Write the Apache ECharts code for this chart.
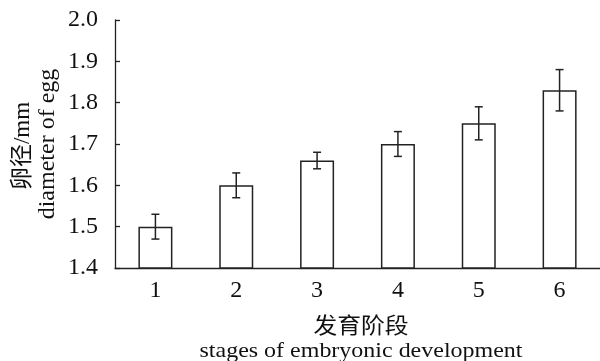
<!DOCTYPE html>
<html><head><meta charset="utf-8">
<script src="https://cdn.jsdelivr.net/npm/echarts@6/dist/echarts.min.js"></script>
<style>html,body{margin:0;padding:0;background:#fff}#c{width:600px;height:361px}</style>
</head><body><div id="c"></div>
<script>
const categories = ['1','2','3','4','5','6'];
const values = [1.50, 1.60, 1.66, 1.70, 1.75, 1.83];
const errors = [0.03, 0.03, 0.02, 0.03, 0.04, 0.05];
const yTicks = [1.4, 1.5, 1.6, 1.7, 1.8, 1.9, 2.0];

const FONT = '"Liberation Serif","Times New Roman",serif';
const CJK = '"Liberation Serif","Noto Sans CJK SC",serif';
const chart = echarts.init(document.getElementById('c'));
const errData = values.map((v, i) => [i, v - errors[i], v + errors[i]]);
chart.setOption({
  animation: false,
  grid: {left: 115, top: 20, bottom: 93, right: -9, containLabel: false},
  xAxis: {
    type: 'category', data: categories, boundaryGap: true,
    axisLine: {lineStyle: {color: '#222', width: 1.3}},
    axisTick: {inside: true, length: 4, lineStyle: {color: '#222', width: 1.3}},
    axisLabel: {color: '#111', fontFamily: FONT, fontSize: 24, margin: 11}
  },
  yAxis: {
    type: 'value', min: yTicks[0], max: yTicks[yTicks.length - 1], interval: 0.1,
    splitLine: {show: false},
    axisLine: {show: true, lineStyle: {color: '#222', width: 1.3}},
    axisTick: {show: true, inside: true, length: 5, lineStyle: {color: '#222', width: 1.3}},
    axisLabel: {color: '#111', fontFamily: FONT, fontSize: 24, margin: 17,
      formatter: v => v.toFixed(1)}
  },
  graphic: [
    {type: 'text', x: 23, y: 146, rotation: Math.PI / 2, style: {text: '卵径/mm', fontFamily: CJK, fontSize: 23, fill: '#111', align: 'center', verticalAlign: 'middle'}},
    {type: 'text', x: 48, y: 144, rotation: Math.PI / 2, style: {text: 'diameter of egg', fontFamily: FONT, fontSize: 24, fill: '#111', align: 'center', verticalAlign: 'middle'}},
    {type: 'text', x: 361, y: 327, scaleX: 1.08, style: {text: '发育阶段', fontFamily: CJK, fontSize: 22, fill: '#111', align: 'center', verticalAlign: 'middle'}},
    {type: 'text', x: 361, y: 351, scaleX: 1.09, style: {text: 'stages of embryonic development', fontFamily: FONT, fontSize: 22, fill: '#111', align: 'center', verticalAlign: 'middle'}}
  ],
  series: [
    {type: 'bar', data: values, barWidth: 34,
     itemStyle: {color: '#fff', borderColor: '#222', borderWidth: 1.5}},
    {type: 'custom', data: errData,
     renderItem: function (params, api) {
       const x = api.coord([api.value(0), api.value(1)])[0];
       const lo = api.coord([api.value(0), api.value(1)])[1];
       const hi = api.coord([api.value(0), api.value(2)])[1];
       const hw = 4;
       const st = {stroke: '#222', lineWidth: 1.5};
       return {type: 'group', children: [
         {type: 'line', shape: {x1: x, y1: lo, x2: x, y2: hi}, style: st},
         {type: 'line', shape: {x1: x - hw, y1: lo, x2: x + hw, y2: lo}, style: st},
         {type: 'line', shape: {x1: x - hw, y1: hi, x2: x + hw, y2: hi}, style: st}
       ]};
     }, z: 5}
  ]
});
</script></body></html>
